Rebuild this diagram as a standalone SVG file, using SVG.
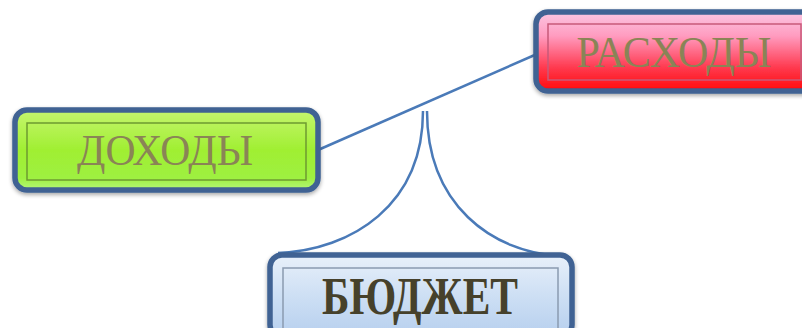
<svg xmlns="http://www.w3.org/2000/svg" width="802" height="328" viewBox="0 0 802 328">
  <defs>
    <linearGradient id="gRed" x1="0" y1="0" x2="0" y2="1">
      <stop offset="0" stop-color="#fbc6e2"/>
      <stop offset="0.3" stop-color="#ff9cc0"/>
      <stop offset="0.7" stop-color="#ff3a50"/>
      <stop offset="1" stop-color="#ff0a0a"/>
    </linearGradient>
    <linearGradient id="gGreen" x1="0" y1="0" x2="0" y2="1">
      <stop offset="0" stop-color="#c6f56e"/>
      <stop offset="0.5" stop-color="#a0ef32"/>
      <stop offset="0.85" stop-color="#9ef040"/>
      <stop offset="1" stop-color="#b4f77a"/>
    </linearGradient>
    <linearGradient id="gBlue" x1="0" y1="0" x2="0" y2="1">
      <stop offset="0" stop-color="#e8f0fa"/>
      <stop offset="0.5" stop-color="#cddff4"/>
      <stop offset="1" stop-color="#b6cfee"/>
    </linearGradient>
    <filter id="sh" x="-10%" y="-20%" width="120%" height="150%">
      <feGaussianBlur in="SourceAlpha" stdDeviation="2"/>
      <feOffset dy="2" result="b"/>
      <feComponentTransfer><feFuncA type="linear" slope="0.35"/></feComponentTransfer>
      <feMerge><feMergeNode/><feMergeNode in="SourceGraphic"/></feMerge>
    </filter>
  </defs>
  <style>
    .outer { stroke: #3f6293; stroke-width: 5.5; filter: url(#sh); }
    .inner { fill: none; stroke-width: 1.5; }
    .conn { fill: none; stroke: #4a7ab8; stroke-width: 2.5; }
    .lbl { font-family: "Liberation Serif", "Times New Roman", serif; text-anchor: middle; }
  </style>
  <g id="connectors">
    <line class="conn" x1="318" y1="150" x2="537" y2="54"/>
    <path class="conn" d="M423,111 C423,205 352,250 278,253"/>
    <path class="conn" d="M427,111 C427,205 492,252 560,256"/>
  </g>
  <g id="node-rashody">
    <rect class="outer" x="536" y="12" width="290" height="79" rx="12" fill="url(#gRed)"/>
    <rect class="inner" x="548" y="24" width="253" height="56" stroke="#c85a7a"/>
    <text class="lbl" x="674" y="67" font-size="45" fill="#8a8456" textLength="195" lengthAdjust="spacingAndGlyphs">РАСХОДЫ</text>
  </g>
  <g id="node-dohody">
    <rect class="outer" x="15" y="110" width="303" height="80" rx="12" fill="url(#gGreen)"/>
    <rect class="inner" x="27" y="123" width="279" height="57" stroke="#6e9a30"/>
    <text class="lbl" x="165" y="165" font-size="44" fill="#8a8456" textLength="176" lengthAdjust="spacingAndGlyphs">ДОХОДЫ</text>
  </g>
  <g id="node-budget">
    <rect class="outer" x="270" y="255" width="302" height="82" rx="12" fill="url(#gBlue)"/>
    <rect class="inner" x="283" y="268" width="275" height="62" stroke="#8a9bb0"/>
    <text class="lbl" x="420" y="314" font-size="52" font-weight="bold" fill="#46412b" textLength="196" lengthAdjust="spacingAndGlyphs">БЮДЖЕТ</text>
  </g>
</svg>
